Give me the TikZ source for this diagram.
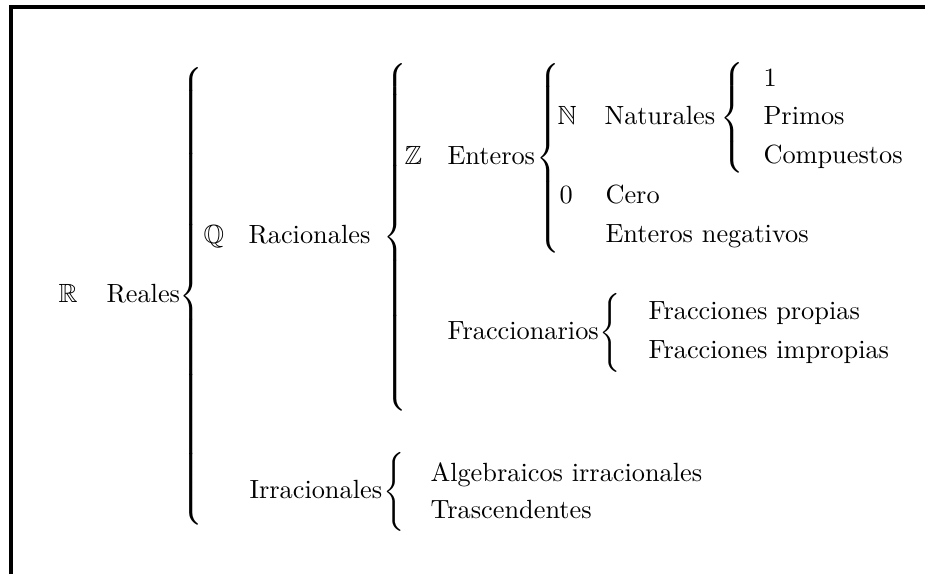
\documentclass[tikz,border=0pt]{standalone}
\usepackage{amsmath,amssymb}
\usepackage{tikz}
\usetikzlibrary{positioning}

\newcommand{\llave}[1]{$\left\{\vcenter to #1{\vfil}\right.$}
\delimitershortfall=0pt
\delimiterfactor=1000
\nulldelimiterspace=0pt

\begin{document}
\begin{tikzpicture}[x=0.38pt, y=-0.38pt,
    word/.style={anchor=west, inner sep=0pt, text height=1.6ex, text depth=0.4ex},
    brc/.style={anchor=west, inner sep=0pt}]
    \useasboundingbox (0,0) rectangle (925,574);

    % Frame
    \draw[line width=1.5pt] (11,574) -- (11,7) -- (925,7);

    % Reales
    \node[word] (R) at (58,296) {$\mathbb{R}$};
    \node[word] (reales) at (106,296) {Reales};
    \node[brc, right=-0.5pt of reales] (bR) {\llave{174pt}};

    % Racionales
    \node[word] (Q) at (203,237) {$\mathbb{Q}$};
    \node[word] (racionales) at (248,237) {Racionales};
    \node[brc, right=4.5pt of racionales] (bQ) {\llave{131pt}};

    % Enteros
    \node[word] (Z) at (404,158) {$\mathbb{Z}$};
    \node[word] (enteros) at (447,158) {Enteros};
    \node[brc, right=0pt of enteros] (bZ) {\llave{72pt}};

    % Naturales
    \node[word] (N) at (557,118) {$\mathbb{N}$};
    \node[word] (naturales) at (604,118) {Naturales};
    \node[brc, right=1.5pt of naturales] (bN) {\llave{42pt}};
    \node[word] (uno) at (763,80) {1};
    \node[word] (primos) at (763,118) {Primos};
    \node[word] (compuestos) at (763,157) {Compuestos};

    % Cero y negativos
    \node[word] (O) at (559,197) {0};
    \node[word] (cero) at (605,197) {Cero};
    \node[word] (negativos) at (605,236) {Enteros negativos};

    % Fraccionarios
    \node[word] (fraccionarios) at (447,333) {Fraccionarios};
    \node[brc, right=0pt of fraccionarios] (bF) {\llave{30pt}};
    \node[word] (propias) at (648,313) {Fracciones propias};
    \node[word] (impropias) at (648,352) {Fracciones impropias};

    % Irracionales
    \node[word] (irracionales) at (249,492) {Irracionales};
    \node[brc, right=0pt of irracionales] (bI) {\llave{30pt}};
    \node[word] (algebraicos) at (430,475) {Algebraicos irracionales};
    \node[word] (trascendentes) at (430,512) {Trascendentes};

\end{tikzpicture}
\end{document}
